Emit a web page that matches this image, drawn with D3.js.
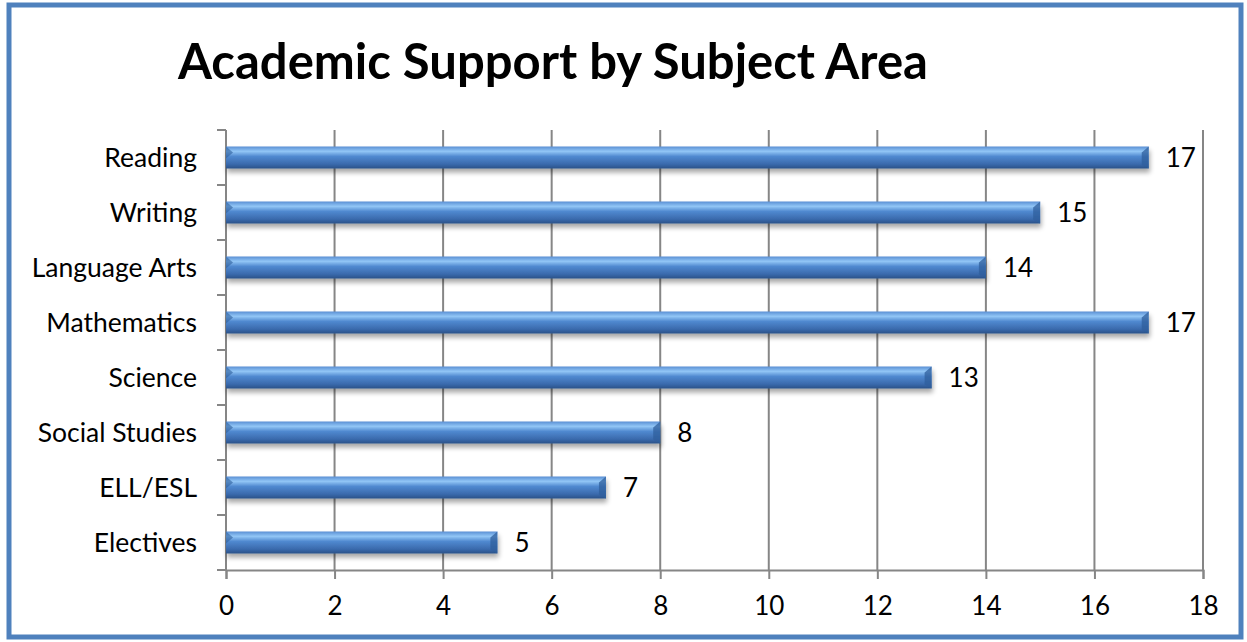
<!DOCTYPE html>
<html>
<head>
<meta charset="utf-8">
<script src="https://cdn.jsdelivr.net/npm/d3@7"></script>
<style>
  body { margin: 0; background: #fff; }
  svg { display: block; font-family: Lato, "Open Sans", sans-serif; }
</style>
</head>
<body>
<svg id="chart" width="1247" height="642"></svg>
<script>
// data
var subjects = ["Reading", "Writing", "Language Arts", "Mathematics", "Science", "Social Studies", "ELL/ESL", "Electives"];
var counts = [17, 15, 14, 17, 13, 8, 7, 5];
var xTicks = [0, 2, 4, 6, 8, 10, 12, 14, 16, 18];

var svg = d3.select("#chart");
var margin = {left: 226, right: 44, top: 130, bottom: 72};
var W = 1247, H = 642;

// outer frame
svg.append("rect").attr("x", 9).attr("y", 5).attr("width", 1232).attr("height", 632)
  .style("fill", "#fff").style("stroke", "#4f81bd").style("stroke-width", 5);

svg.append("text").attr("x", 178).attr("y", 79)
  .style("font-size", "49px").style("font-weight", "bold").style("fill", "#000")
  .text("Academic Support by Subject Area");

var x = d3.scaleLinear().domain([0, 18]).range([margin.left, W - margin.right]);
var y = d3.scaleBand().domain(subjects).range([margin.top, H - margin.bottom]).paddingInner(0.6).paddingOuter(0.3);

var defs = svg.append("defs");
var grad = defs.append("linearGradient").attr("id", "barGrad").attr("x1", 0).attr("y1", 0).attr("x2", 0).attr("y2", 1);
grad.append("stop").attr("offset", "0%").attr("stop-color", "#5a8fd4");
grad.append("stop").attr("offset", "22%").attr("stop-color", "#92c6f6");
grad.append("stop").attr("offset", "45%").attr("stop-color", "#5089d0");
grad.append("stop").attr("offset", "80%").attr("stop-color", "#3a6aad");
grad.append("stop").attr("offset", "100%").attr("stop-color", "#2a5288");

var shadow = defs.append("filter").attr("id", "shadow").attr("x", "-5%").attr("y", "-50%").attr("width", "110%").attr("height", "250%");
shadow.append("feGaussianBlur").attr("in", "SourceAlpha").attr("stdDeviation", 2.5);
shadow.append("feOffset").attr("dx", 1).attr("dy", 4).attr("result", "b");
shadow.append("feComponentTransfer").append("feFuncA").attr("type", "linear").attr("slope", 0.35);
var merge = shadow.append("feMerge");
merge.append("feMergeNode");
merge.append("feMergeNode").attr("in", "SourceGraphic");

// vertical gridlines
svg.append("g").selectAll("line").data(xTicks.slice(1)).join("line")
  .attr("x1", d => x(d)).attr("x2", d => x(d))
  .attr("y1", margin.top).attr("y2", H - margin.bottom)
  .style("stroke", "#868686").style("stroke-width", 2);

// x axis
var xAxis = svg.append("g").attr("transform", "translate(0," + (H - margin.bottom) + ")")
  .call(d3.axisBottom(x).tickValues(xTicks).tickSize(9).tickPadding(18));
xAxis.select(".domain").style("stroke", "#868686").style("stroke-width", 2);
xAxis.selectAll(".tick line").style("stroke", "#868686").style("stroke-width", 2);
xAxis.selectAll("text").style("font-size", "26px").style("fill", "#000").style("font-family", "Lato, sans-serif");

// y axis with ticks between categories
var yAxis = svg.append("g").attr("transform", "translate(" + margin.left + ",0)");
yAxis.append("line").attr("x1", 0).attr("x2", 0).attr("y1", margin.top).attr("y2", H - margin.bottom)
  .style("stroke", "#868686").style("stroke-width", 2);
var bounds = d3.range(subjects.length + 1).map(i => margin.top + i * (H - margin.top - margin.bottom) / subjects.length);
yAxis.selectAll("line.t").data(bounds).join("line").attr("class", "t")
  .attr("x1", -9).attr("x2", 0).attr("y1", d => d).attr("y2", d => d)
  .style("stroke", "#868686").style("stroke-width", 2);
yAxis.selectAll("text").data(subjects).join("text")
  .attr("x", -29).attr("y", d => y(d) + y.bandwidth() / 2).attr("dy", "0.35em")
  .attr("text-anchor", "end").style("font-size", "26.5px").style("fill", "#000")
  .text(d => d);

// bars
var bars = svg.append("g").selectAll("g").data(subjects).join("g").attr("filter", "url(#shadow)");
bars.append("rect")
  .attr("x", x(0)).attr("y", d => y(d))
  .attr("width", (d, i) => x(counts[i]) - x(0)).attr("height", y.bandwidth())
  .style("fill", "url(#barGrad)");
// bevelled end caps
bars.append("path")
  .attr("d", (d, i) => {
    var x1 = x(counts[i]), y0 = y(d), h = y.bandwidth();
    return "M" + x1 + "," + y0 + "L" + (x1 - 7) + "," + (y0 + 6) + "L" + (x1 - 7) + "," + (y0 + h - 4) + "L" + x1 + "," + (y0 + h) + "Z";
  })
  .style("fill", "#2f5f9c").style("opacity", 0.75);
bars.append("path")
  .attr("d", d => {
    var x0 = x(0), y0 = y(d);
    return "M" + x0 + "," + y0 + "L" + (x0 + 7) + "," + (y0 + 6) + "L" + x0 + "," + (y0 + 12) + "Z";
  })
  .style("fill", "#2f5f9c").style("opacity", 0.6);

// value labels
svg.append("g").selectAll("text").data(subjects).join("text")
  .attr("x", (d, i) => x(counts[i]) + 17).attr("y", d => y(d) + y.bandwidth() / 2).attr("dy", "0.38em")
  .style("font-size", "26px").style("fill", "#000")
  .text((d, i) => counts[i]);
</script>
</body>
</html>
